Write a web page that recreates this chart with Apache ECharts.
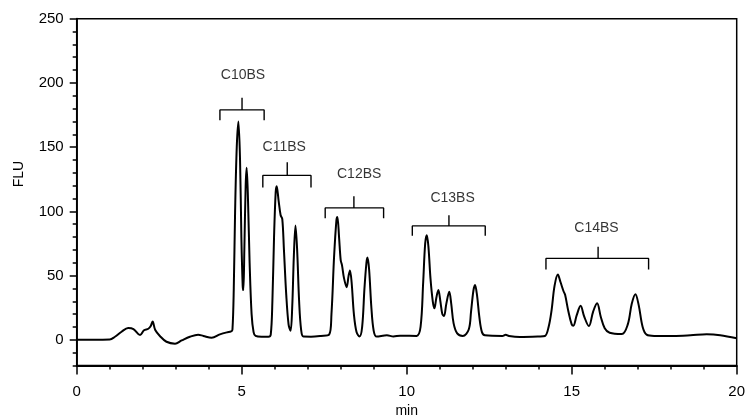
<!DOCTYPE html>
<html><head><meta charset="utf-8">
<script src="https://cdn.jsdelivr.net/npm/echarts@6/dist/echarts.min.js"></script>
<style>html,body{margin:0;padding:0;background:#fff}#c{width:751px;height:418px}</style>
</head><body><div id="c"></div>
<script>
// Chromatogram trace: retention time (min) and signal (FLU)
const traceTime = [0,0.5,1.0,1.16,1.36,1.56,1.72,1.92,2.04,2.17,2.24,2.30,2.38,2.52,2.72,2.98,3.18,3.43,3.68,3.84,4.09,4.34,4.55,4.68,4.72,4.76,4.80,4.85,4.90,4.95,4.99,5.03,5.05,5.08,5.12,5.15,5.19,5.24,5.30,5.36,5.42,5.6,5.81,5.88,5.93,5.98,6.03,6.06,6.12,6.18,6.23,6.28,6.35,6.42,6.48,6.53,6.58,6.63,6.68,6.74,6.80,6.87,7.1,7.4,7.65,7.72,7.80,7.87,7.90,7.95,8.00,8.04,8.10,8.18,8.24,8.28,8.33,8.40,8.48,8.57,8.65,8.72,8.78,8.81,8.86,8.93,9.00,9.09,9.4,9.6,9.8,10.3,10.42,10.50,10.56,10.61,10.66,10.72,10.79,10.84,10.90,10.96,11.02,11.08,11.13,11.20,11.29,11.35,11.42,11.53,11.7,11.88,11.95,12.02,12.07,12.13,12.20,12.28,12.37,12.9,13.0,13.1,13.43,14.0,14.19,14.30,14.39,14.48,14.58,14.66,14.75,14.80,14.90,15.00,15.05,15.15,15.27,15.38,15.52,15.65,15.77,15.88,16.0,16.15,16.52,16.70,16.82,16.93,17.03,17.15,17.27,17.5,18.08,18.6,19.09,19.5,20];
const traceFLU = [0,0,0.2,2.4,6.3,9.2,8.4,3.7,7.4,8.6,10.5,14.2,7.6,3.0,-1.5,-3.0,-0.5,2.4,4.0,3.0,1.6,4.2,5.8,6.5,8,40,100,150,170,140,80,42,38.7,70,120,134,110,60,20,6,3,2.4,2.4,4,30,80,115,119.6,108,97,94,70,35,12,7,25,65,89,70,30,8,2.5,2.4,3,4,20,65,93,95.7,80,62,58,48,41,50,54,45,20,6,2.5,10,40,60,64,55,25,7,2.5,3.5,2.6,3.2,3,10,45,75,81.5,72,48,30,24.5,33,38.7,30,20,18.5,28,37.4,28,13,5,3,8,22,38,42.6,35,18,6,3.5,3,4,3,2.2,2.6,3,10,23,42,50.9,45,38,35,22,12,11,19,26.5,18,10.7,22,28.4,18,9,5.5,4.5,12,28,35.4,27,10,4,3,3,3.5,4.3,3.6,1.2];

// Peak-group brackets
const groupNames   = ['C10BS','C11BS','C12BS','C13BS','C14BS'];
const bracketLeft  = [4.34, 5.64, 7.53, 10.17, 14.22];
const bracketRight = [5.68, 7.10, 9.30, 12.38, 17.33];
const bracketMid   = [5.01, 6.38, 8.40, 11.28, 15.80];
const bracketY     = [179, 128, 102.7, 88.7, 63.4];
const bracketEndY  = [171, 118.6, 94.7, 81, 54.8];
const bracketTopY  = [188.5, 138.3, 111.8, 97, 72.4];
const labelX       = [5.04, 6.29, 8.56, 11.39, 15.75];
const labelY       = [205.9, 149.7, 128.7, 110, 86.7];

// Axis ticks
const yMajor = [0,50,100,150,200,250];

const FONT = "'Liberation Sans',Arial,sans-serif";
const chart = echarts.init(document.getElementById('c'));

const series = [{
  type:'line', xAxisIndex:0, yAxisIndex:0,
  data: traceTime.map((t,i)=>[t, traceFLU[i]]),
  showSymbol:false, smooth:0.35,
  lineStyle:{color:'#000', width:2}, silent:true, z:5
}];
groupNames.forEach((n,i)=>{
  series.push({
    type:'line', xAxisIndex:0, yAxisIndex:0, showSymbol:false, silent:true,
    lineStyle:{color:'#000', width:1.4},
    data:[[bracketLeft[i],bracketEndY[i]],[bracketLeft[i],bracketY[i]],[bracketMid[i],bracketY[i]],[bracketMid[i],bracketTopY[i]],[bracketMid[i],bracketY[i]],[bracketRight[i],bracketY[i]],[bracketRight[i],bracketEndY[i]]]
  });
});
series.push({
  type:'scatter', xAxisIndex:0, yAxisIndex:0, symbolSize:0, silent:true,
  data: groupNames.map((n,i)=>({name:n, value:[labelX[i], labelY[i]]})),
  label:{show:true, position:'inside', formatter:p=>p.name, color:'#000', fontSize:14, fontFamily:FONT}
});

chart.setOption({
  animation:false,
  grid:{left:76.7, right:14.3, top:18.7, bottom:52.5, outerBoundsMode:'none', containLabel:false,
        show:true, borderColor:'#000', borderWidth:1.5, backgroundColor:'transparent'},
  graphic:[{type:'text', x:19, y:174, rotation:Math.PI/2,
    style:{text:'FLU', fill:'#000', font:"14px 'Liberation Sans',Arial,sans-serif", align:'center', verticalAlign:'middle'}}],
  xAxis:{
    type:'value', min:0, max:20, interval:5,
    name:'min', nameLocation:'middle', nameGap:38,
    nameTextStyle:{color:'#000', fontSize:14, fontFamily:FONT},
    axisLine:{onZero:false, lineStyle:{color:'#000', width:1.8}},
    axisTick:{show:true, length:9, lineStyle:{color:'#000', width:1.5}},
    minorTick:{show:true, splitNumber:5, length:4, lineStyle:{color:'#000', width:1.5}},
    splitLine:{show:false},
    axisLabel:{color:'#000', fontSize:15, fontFamily:FONT, margin:19}
  },
  yAxis:[{
    type:'value', min:-20, max:250, interval:10, position:'left',
    axisLine:{show:true, onZero:false, lineStyle:{color:'#000', width:1.8}},
    axisTick:{show:true, length:4, lineStyle:{color:'#000', width:1.5}},
    splitLine:{show:false},
    axisLabel:{color:'#000', fontSize:15, fontFamily:FONT, margin:13,
      formatter:v=> (yMajor.indexOf(v)>=0 ? String(v) : '')}
  },{
    type:'value', min:-20, max:250, position:'left', offset:0,
    axisLine:{show:false, onZero:false},
    axisTick:{show:true, length:7, customValues:yMajor, lineStyle:{color:'#000', width:1.5}},
    axisLabel:{show:false, customValues:yMajor},
    splitLine:{show:false}
  }],
  series: series
});
</script></body></html>
